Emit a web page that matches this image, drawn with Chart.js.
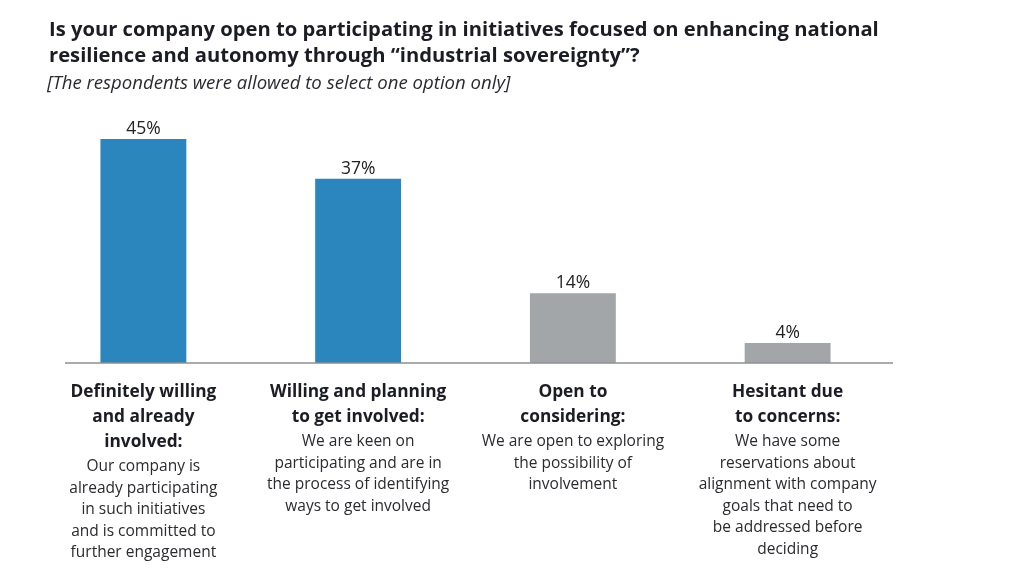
<!DOCTYPE html>
<html>
<head>
<meta charset="utf-8">
<script src="https://cdn.jsdelivr.net/npm/chart.js@4.4.1/dist/chart.umd.min.js"></script>
<style>
    html, body { margin: 0; padding: 0; background: #fff; }
    #wrap { width: 1024px; height: 575px; position: relative; }
</style>
</head>
<body>
<div id="wrap"><canvas id="chart" width="1024" height="575"></canvas></div>
<script>
const titleLines = ['Is your company open to participating in initiatives focused on enhancing national', 'resilience and autonomy through \u201cindustrial sovereignty\u201d?']
const subtitle = '[The respondents were allowed to select one option only]'
const categories = ['Definitely willing', 'Willing and planning', 'Open to considering', 'Hesitant due to concerns']
const heads = [
    ['Definitely willing', 'and already', 'involved:'],
    ['Willing and planning', 'to get involved:'],
    ['Open to', 'considering:'],
    ['Hesitant due', 'to concerns:']
]
const descs = [
    ['Our company is', 'already participating', 'in such initiatives', 'and is committed to', 'further engagement'],
    ['We are keen on', 'participating and are in', 'the process of identifying', 'ways to get involved'],
    ['We are open to exploring', 'the possibility of', 'involvement'],
    ['We have some', 'reservations about', 'alignment with company', 'goals that need to', 'be addressed before', 'deciding']
]
const values = [45, 37, 14, 4]
const barColors = ['#2a86bd', '#2a86bd', '#a2a6a9', '#a2a6a9']

const FONT = '"Open Sans"'
const ink = '#1b1c24'

// titles, value labels, category texts and the baseline
const decor = {
    id: 'decor',
    afterDatasetsDraw(chart){
        const ctx = chart.ctx
        const x = chart.scales.x
        const y = chart.scales.y
        const meta = chart.getDatasetMeta(0)
        ctx.save()
        ctx.fillStyle = ink
        ctx.textAlign = 'left'
        ctx.textBaseline = 'alphabetic'
        ctx.font = `bold 20.2px ${FONT}`
        ctx.fillText(titleLines[0], 49, 36)
        ctx.fillText(titleLines[1], 49, 62)
        ctx.font = `italic 18.6px ${FONT}`
        ctx.fillStyle = '#2a2a30'
        ctx.fillText(subtitle, 47, 89)

        // baseline
        ctx.strokeStyle = '#8c8f94'
        ctx.lineWidth = 1.5
        ctx.beginPath()
        ctx.moveTo(65, y.getPixelForValue(0))
        ctx.lineTo(893, y.getPixelForValue(0))
        ctx.stroke()

        // value labels
        ctx.textAlign = 'center'
        ctx.fillStyle = '#222'
        ctx.font = `17.5px ${FONT}`
        meta.data.forEach((bar, i) => {
            ctx.fillText(values[i] + '%', bar.x, bar.y - 5)
        })

        // category texts
        for(let i in categories){
            let cx = x.getPixelForValue(Number(i))
            let ty = 397
            ctx.fillStyle = ink
            ctx.font = `bold 17.3px ${FONT}`
            for(let line of heads[i]){
                ctx.fillText(line, cx, ty)
                ty += 25
            }
            ty -= 1
            ctx.fillStyle = '#2a2a30'
            ctx.font = `15.5px ${FONT}`
            for(let line of descs[i]){
                ctx.fillText(line, cx, ty)
                ty += 21.5
            }
        }
        ctx.restore()
    }
}

const ctx = document.getElementById('chart').getContext('2d')
const myChart = new Chart(ctx, {
    type: 'bar',
    data: {
        labels: categories,
        datasets: [{
            data: values,
            backgroundColor: barColors,
            borderWidth: 0,
            categoryPercentage: 1,
            barPercentage: 0.4
        }]
    },
    options: {
        responsive: false,
        animation: false,
        layout: { padding: { left: 36, right: 129, top: 114, bottom: 212 } },
        plugins: { legend: { display: false }, tooltip: { enabled: false } },
        scales: {
            x: { display: false },
            y: { display: false, min: 0, max: 50 }
        }
    },
    plugins: [decor]
})
</script>
</body>
</html>
